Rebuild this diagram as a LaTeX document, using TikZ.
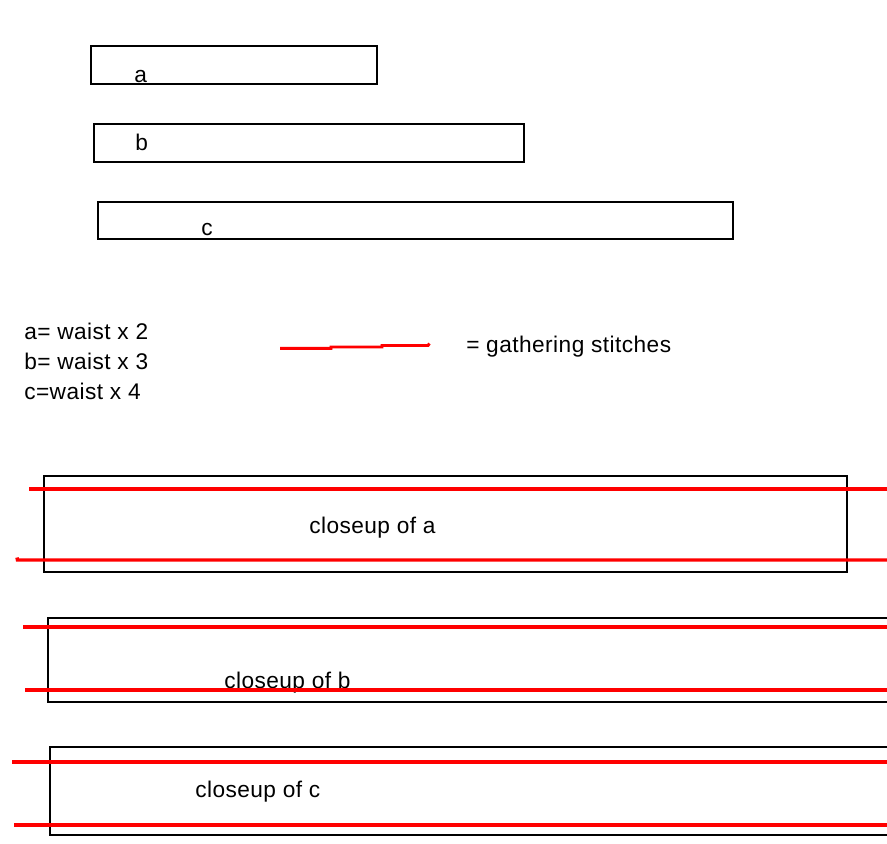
\documentclass[tikz,border=0pt]{standalone}
\usepackage{fontspec}
\setmainfont[LetterSpace=2]{Liberation Sans}
\begin{document}
\begin{tikzpicture}[x=0.75pt,y=-0.75pt,
  box/.style={draw=black,line width=1.1pt},
  stitch/.style={draw=red,line width=2.6pt},
  lbl/.style={anchor=base west,inner sep=0pt,font=\fontsize{17}{20}\selectfont}]
\useasboundingbox (0,0) rectangle (887,843);
% top pieces
\draw[box] (91,46) rectangle (377,84);
\draw[box] (94,124) rectangle (524,162);
\draw[box] (98,202) rectangle (733,239);
\node[lbl] (la) at (134,82) {a};
\node[lbl] (lb) at (135,150) {b};
\node[lbl] (lc) at (201,235) {c};
% legend
\node[lbl] (l1) at (24,339) {a= waist x 2};
\node[lbl] (l2) at (24,369) {b= waist x 3};
\node[lbl] (l3) at (24,399) {c=waist x 4};
\draw[stitch,line width=2.2pt] (280,348.3) -- (331,348.3) -- (331,347) -- (382,347) -- (382,345.5) -- (428,345.5) -- (429.5,343.5);
\node[lbl] (lg) at (466,352) {= gathering stitches};
% closeup a
\draw[box] (44,476) rectangle (847,572);
\draw[stitch] (29,489) -- (890,489);
\draw[stitch] (17,557.5) -- (17.5,560) -- (890,560);
\node[lbl] (ca) at (309,533) {closeup of a};
% closeup b
\draw[box] (892,618) -- (48,618) -- (48,702) -- (892,702);
\draw[stitch] (23,627) -- (890,627);
\node[lbl] (cb) at (224,688) {closeup of b};
\draw[stitch] (25,690) -- (890,690);
% closeup c
\draw[box] (892,747) -- (50,747) -- (50,835) -- (892,835);
\draw[stitch] (12,762) -- (890,762);
\draw[stitch] (14,825) -- (890,825);
\node[lbl] (cc) at (195,797) {closeup of c};
\end{tikzpicture}
\end{document}
